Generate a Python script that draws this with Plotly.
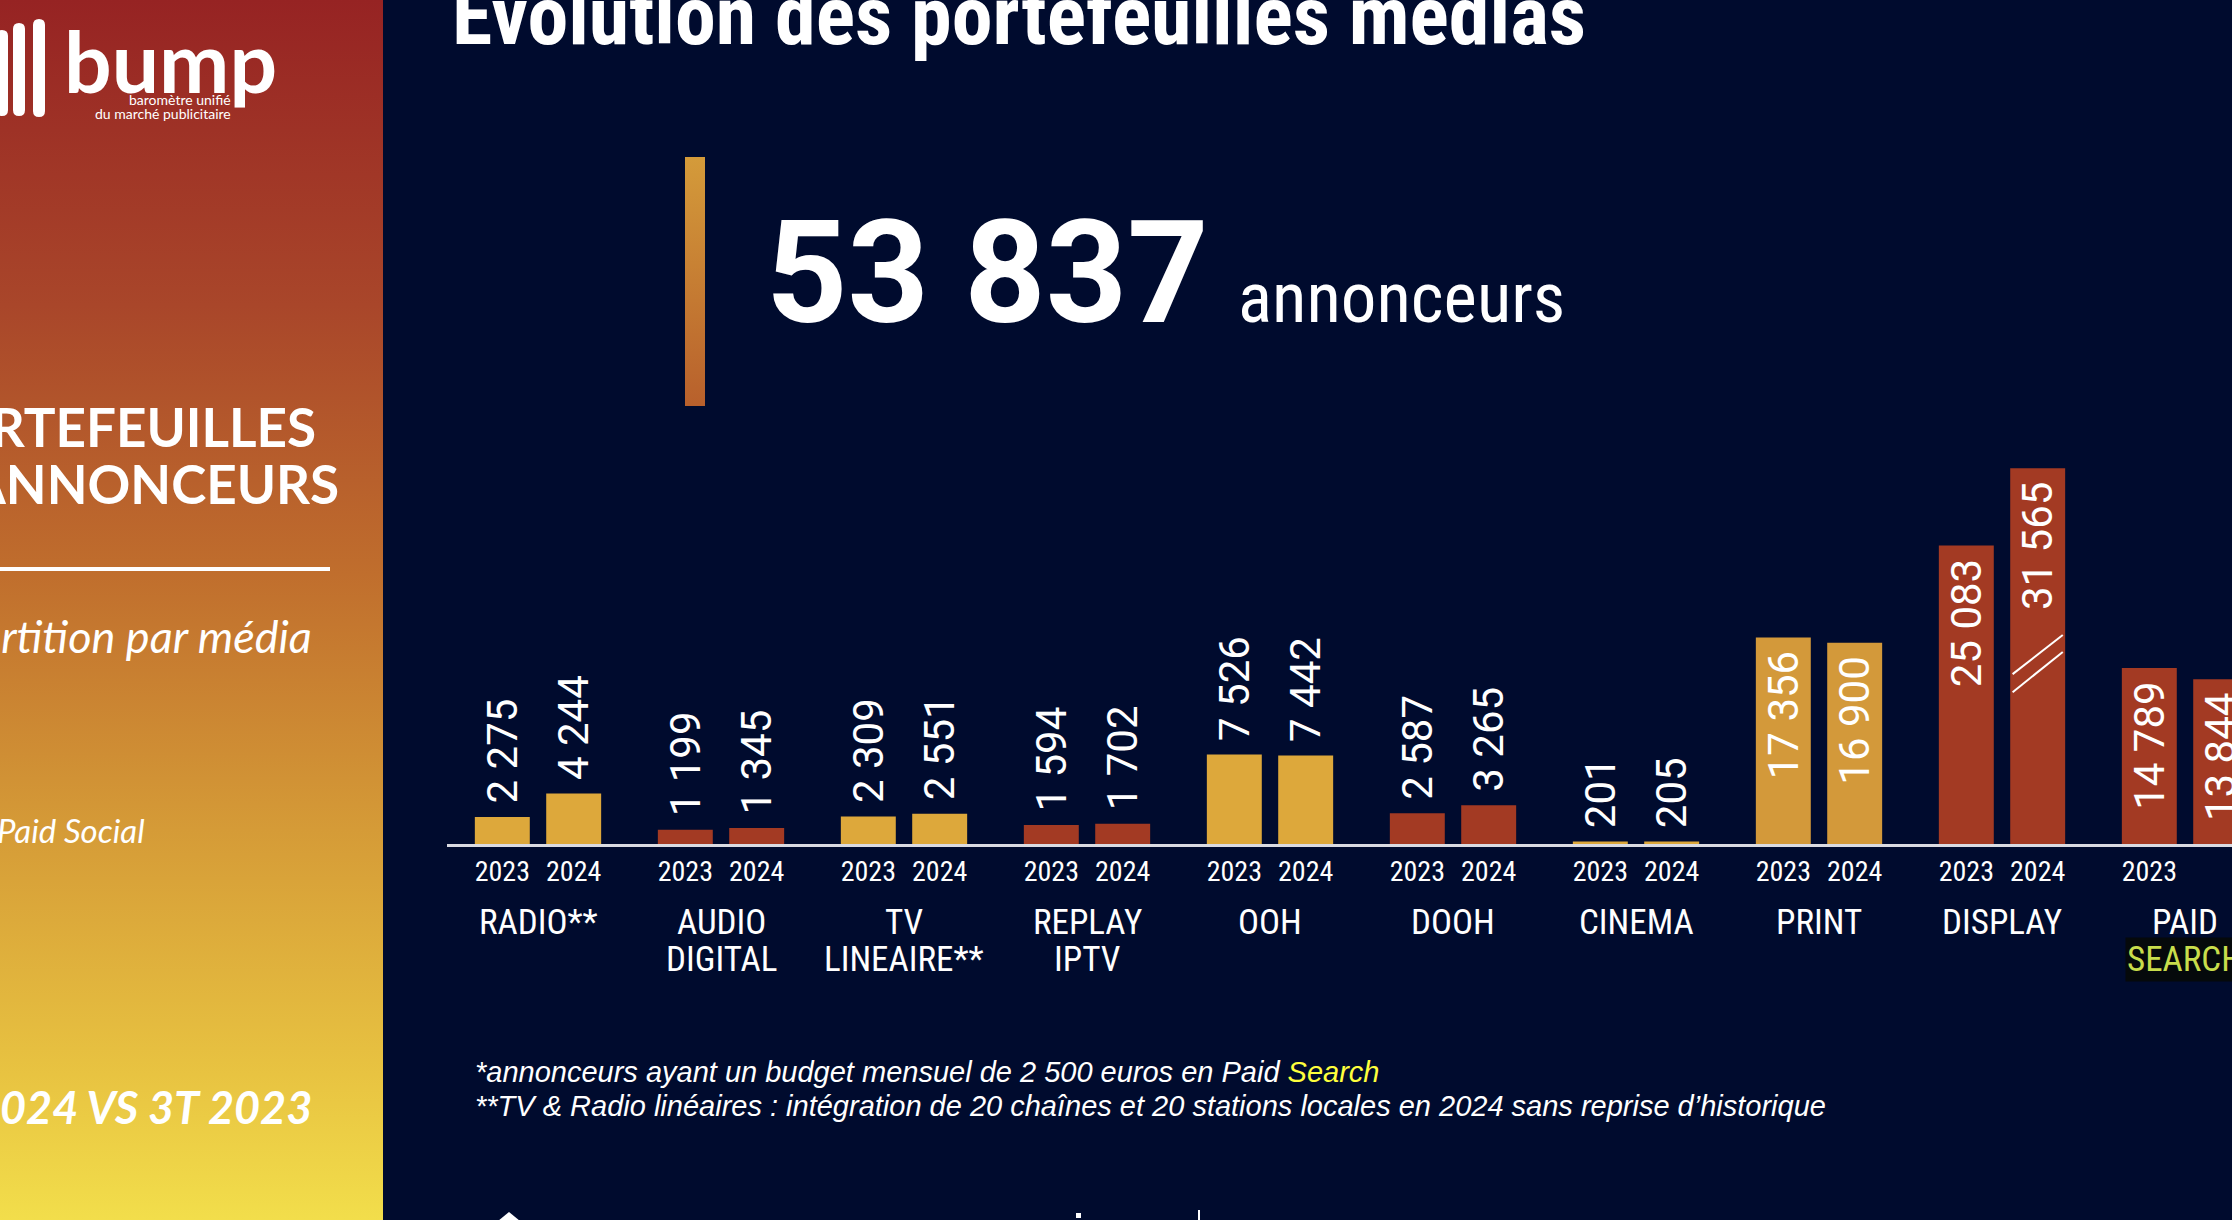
import plotly.graph_objects as go

# Portefeuilles annonceurs par média, 3T 2023 vs 3T 2024 (source: BUMP)

W, H = 2232, 1220

MEDIA_LINE1 = ["RADIO**", "AUDIO", "TV", "REPLAY", "OOH", "DOOH", "CINEMA", "PRINT", "DISPLAY", "PAID"]
MEDIA_LINE2 = ["", "DIGITAL", "LINEAIRE**", "IPTV", "", "", "", "", "", "SEARCH"]
YEARS = ["2023", "2024"]
ANNONCEURS_2023 = [2275, 1199, 2309, 1594, 7526, 2587, 201, 17356, 25083, 14789]
ANNONCEURS_2024 = [4244, 1345, 2551, 1702, 7442, 3265, 205, 16900, 31565, 13844]
TOTAL_ANNONCEURS = 53837

YELLOW, ORANGE, RED = "#DDA83B", "#D3993A", "#A33A23"
BAR_COLORS = [YELLOW, RED, YELLOW, RED, YELLOW, RED, YELLOW, ORANGE, RED, RED]

NAVY = "#000B2E"
NARROW = "Liberation Sans Narrow, Roboto Condensed, Arial Narrow, sans-serif"
NBSP = "\u00a0"

PANEL_SCALE = [[0, "#962323"], [0.25, "#A9462A"], [0.47, "#C06E2D"], [0.68, "#D59B37"],
               [0.88, "#E8C341"], [1, "#F2DE4B"]]
ACCENT_SCALE = [[0, "#D49B3A"], [1, "#B8602C"]]

PX_SCALE = 84  # annonceurs par pixel
BASELINE = 844
OFFSET = 0.195  # demi-écart entre 2023 et 2024 dans un groupe


def fmt(v):
    return f"{v:,}".replace(",", " ")


fig = go.Figure()

# --- barres
for year, values in zip(YEARS, (ANNONCEURS_2023, ANNONCEURS_2024)):
    inside = [v > 10000 for v in values]
    fig.add_trace(go.Bar(
        x=list(range(len(values))),
        y=values,
        name=year,
        marker=dict(color=BAR_COLORS, line_width=0),
        text=[fmt(v) + NBSP if ins else NBSP + fmt(v) for v, ins in zip(values, inside)],
        textposition=["inside" if ins else "outside" for ins in inside],
        textangle=-90,
        insidetextanchor="end",
        constraintext="none",
        textfont=dict(family="Roboto", size=42, color="white"),
        hoverinfo="skip",
        showlegend=False,
    ))

# --- décor du panneau de gauche (axe en pixels)
def px_poly(xs, ys, scale):
    return go.Scatter(
        x=xs, y=ys, xaxis="x2", yaxis="y2", mode="lines", line_width=0,
        fill="toself", fillgradient=dict(type="vertical", colorscale=scale, start=min(ys), stop=max(ys)),
        hoverinfo="skip", showlegend=False,
    )


fig.add_trace(px_poly([0, 383, 383, 0, 0], [0, 0, H, H, 0], PANEL_SCALE))
fig.add_trace(px_poly([685, 705, 705, 685, 685], [157, 157, 406, 406, 157], ACCENT_SCALE))


def rounded_bar(x0, x1, y0, y1):
    r = (x1 - x0) / 2
    xc = x0 + r
    return (f"M {x0},{y0 + r} Q {x0},{y0} {xc},{y0} Q {x1},{y0} {x1},{y0 + r} "
            f"L {x1},{y1 - r} Q {x1},{y1} {xc},{y1} Q {x0},{y1} {x0},{y1 - r} Z")


shapes = []
for x0, x1, y0, y1 in [(-4, 8, 30, 116), (13, 25, 23, 116), (33, 45, 19, 117)]:
    shapes.append(dict(type="path", path=rounded_bar(x0, x1, y0, y1), xref="x2", yref="y2",
                       fillcolor="white", line_width=0))
shapes.append(dict(type="line", x0=0, x1=330, y0=569, y1=569, xref="x2", yref="y2",
                   line=dict(color="white", width=4)))
# bas de page (logos coupés)
shapes.append(dict(type="path", path="M 498,1221 L 509,1212 L 520,1221 Z", xref="x2", yref="y2",
                   fillcolor="white", line_width=0))
shapes.append(dict(type="rect", x0=1076, x1=1081, y0=1213, y1=1218, xref="x2", yref="y2",
                   fillcolor="white", line_width=0))
shapes.append(dict(type="line", x0=1199, x1=1199, y0=1210, y1=1221, xref="x2", yref="y2",
                   line=dict(color="white", width=2)))

# rupture d'échelle sur DISPLAY 2024
i_disp = MEDIA_LINE1.index("DISPLAY")
v_disp = ANNONCEURS_2024[i_disp]
for lo, hi in [(0.404, 0.511), (0.452, 0.556)]:
    shapes.append(dict(type="line", xref="x", yref="y",
                       x0=i_disp + OFFSET - 0.137, x1=i_disp + OFFSET + 0.137,
                       y0=v_disp * lo, y1=v_disp * hi, line=dict(color="white", width=2)))

# --- textes
ann = []


def txt(text, x, y, size, family="Lato", color="white", xanchor="left", **kw):
    ann.append(dict(text=text, x=x, y=y, xref=kw.pop("xref", "x2"), yref="y2", showarrow=False,
                    xanchor=xanchor, yanchor="middle",
                    font=dict(family=family, size=size, color=color,
                              weight=kw.pop("weight", "normal"), style=kw.pop("style", "normal")),
                    **kw))


txt("bump", 62, 60, 84, weight="bold")
txt("baromètre unifié", 233, 99, 14, xanchor="right")
txt("du marché publicitaire", 233, 113, 14, xanchor="right")
txt("PORTEFEUILLES", 318, 426, 53, weight="bold", xanchor="right")
txt("ANNONCEURS", 341, 483, 53, weight="bold", xanchor="right")
txt("Répartition par média", 314, 636, 45, style="italic", xanchor="right")
txt("Paid Social", 147, 830, 33, style="italic", xanchor="right")
txt("3T 2024 VS 3T 2023", 314, 1107, 45, weight="bold", style="italic", xanchor="right")

txt("Evolution des portefeuilles médias", 450, 16, 82, family=NARROW, weight="bold")
txt(fmt(TOTAL_ANNONCEURS), 764, 273, 142, family="Roboto", weight="bold")
txt("annonceurs", 1236, 297, 71, family=NARROW)

txt("*annonceurs ayant un budget mensuel de 2 500 euros en Paid "
    "<span style='color:#FFFF3C'>Search</span>", 473, 1072, 29, family="Liberation Sans", style="italic")
txt("**TV & Radio linéaires : intégration de 20 chaînes et 20 stations locales en 2024 "
    "sans reprise d’historique", 473, 1106, 29, family="Liberation Sans", style="italic")

for i, (l1, l2) in enumerate(zip(MEDIA_LINE1, MEDIA_LINE2)):
    txt(l1, i, 922, 35, family=NARROW, xanchor="center", xref="x")
    if l2 == "SEARCH":
        txt(l2, i, 959, 35, family=NARROW, color="#C8DD4C", xanchor="center", xref="x",
            bgcolor="#05090B")
    elif l2:
        txt(l2, i, 959, 35, family=NARROW, xanchor="center", xref="x")

n = len(MEDIA_LINE1)
x_left, x_first, step = 447, 538, 183

fig.update_layout(
    width=W,
    height=H,
    margin=dict(l=0, r=0, t=0, b=0),
    paper_bgcolor=NAVY,
    plot_bgcolor="rgba(0,0,0,0)",
    barmode="group",
    bargap=0.22,
    bargroupgap=0.23,
    showlegend=False,
    xaxis=dict(
        domain=[x_left / W, 1],
        range=[(x_left - x_first) / step, (W - x_first) / step],
        tickvals=[i + d for i in range(n) for d in (-OFFSET, OFFSET)],
        ticktext=[y for _ in range(n) for y in YEARS],
        tickfont=dict(family=NARROW, size=28, color="white"),
        ticks="",
        showline=True, linecolor="#DADBE2", linewidth=3,
        showgrid=False, zeroline=False, fixedrange=True,
    ),
    yaxis=dict(
        domain=[1 - BASELINE / H, 1],
        range=[0, BASELINE * PX_SCALE],
        visible=False, fixedrange=True,
    ),
    xaxis2=dict(domain=[0, 1], range=[0, W], anchor="y2", visible=False, fixedrange=True),
    yaxis2=dict(domain=[0, 1], range=[H, 0], anchor="x2", visible=False, fixedrange=True),
    shapes=shapes,
    annotations=ann,
)

fig.write_html(
    "out.html",
    config={"displayModeBar": False},
    post_script="document.body.style.margin='0';document.body.style.overflow='hidden';",
)
